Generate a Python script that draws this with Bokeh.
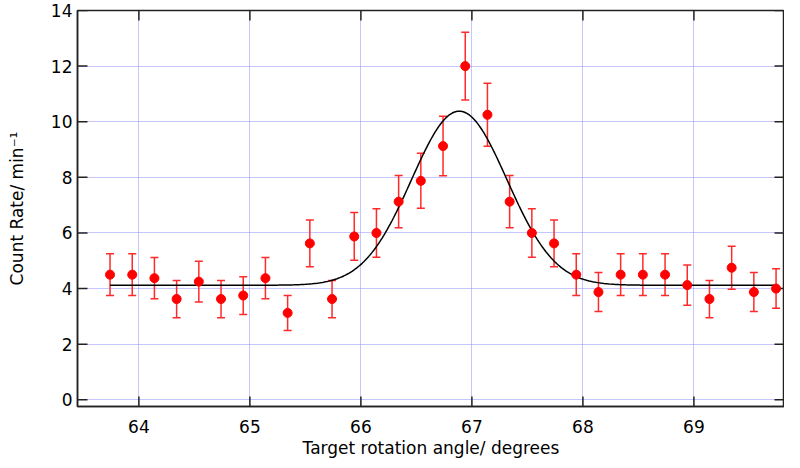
import numpy as np
from bokeh.plotting import figure
from bokeh.models import ColumnDataSource, Whisker, TeeHead, FixedTicker, Range1d
from bokeh.embed import file_html
from bokeh.resources import INLINE

# ---- data ----
angle = [63.74, 63.94, 64.14, 64.34, 64.54, 64.74, 64.94, 65.14, 65.34, 65.54,
         65.74, 65.94, 66.14, 66.34, 66.54, 66.74, 66.94, 67.14, 67.34, 67.54,
         67.74, 67.94, 68.14, 68.34, 68.54, 68.74, 68.94, 69.14, 69.34, 69.54,
         69.74]
rate = [4.5, 4.5, 4.375, 3.625, 4.25, 3.625, 3.75, 4.375, 3.125, 5.625,
        3.625, 5.875, 6.0, 7.125, 7.875, 9.125, 12.0, 10.25, 7.125, 6.0,
        5.625, 4.5, 3.875, 4.5, 4.5, 4.5, 4.125, 3.625, 4.75, 3.875,
        4.0]
rate_err = [0.75, 0.75, 0.74, 0.67, 0.73, 0.67, 0.68, 0.74, 0.63, 0.84,
            0.67, 0.86, 0.87, 0.94, 0.99, 1.07, 1.22, 1.13, 0.94, 0.87,
            0.84, 0.75, 0.70, 0.75, 0.75, 0.75, 0.72, 0.67, 0.77, 0.70,
            0.71]

# Gaussian fit parameters
fit_baseline = 4.12
fit_amplitude = 6.26
fit_center = 66.886
fit_sigma = 0.43

x_ticks = [64, 65, 66, 67, 68, 69]
y_ticks = [0, 2, 4, 6, 8, 10, 12, 14]

x_title = "Target rotation angle/ degrees"
y_title = "Count Rate/ min\u207b\u00b9"

FONT = "DejaVu Sans"
FRAME = "#222222"

W, H = 784, 460
BL, BR, BT, BB = 77, 0, 10, 53
X0, X1 = 63.447, 69.816
Y0, Y1 = -0.24, 14.0

src = ColumnDataSource(dict(
    x=angle, y=rate,
    upper=[r + e for r, e in zip(rate, rate_err)],
    lower=[r - e for r, e in zip(rate, rate_err)],
))

fx = np.linspace(angle[0], angle[-1], 400)
fy = fit_baseline + fit_amplitude * np.exp(-(fx - fit_center) ** 2 / (2 * fit_sigma ** 2))

p = figure(width=W, height=H, output_backend="svg", toolbar_location=None,
           x_range=Range1d(X0, X1), y_range=Range1d(Y0, Y1),
           min_border_left=BL, min_border_right=BR, min_border_top=BT,
           min_border_bottom=BB)
p.background_fill_color = "white"
p.border_fill_color = "white"
p.outline_line_color = FRAME
p.outline_line_width = 1.5

xa = p.xaxis[0]
ya = p.yaxis[0]
xa.ticker = FixedTicker(ticks=x_ticks)
ya.ticker = FixedTicker(ticks=y_ticks)
for ax in (xa, ya):
    ax.major_tick_in = 0
    ax.major_tick_out = 0
    ax.minor_tick_in = 0
    ax.minor_tick_out = 0
    ax.major_tick_line_color = None
    ax.minor_tick_line_color = None
    ax.axis_line_color = FRAME
    ax.axis_line_width = 1.5
    ax.major_label_text_font = FONT
    ax.major_label_text_font_size = "17px"
    ax.major_label_text_color = "black"
    ax.axis_label_text_font = FONT
    ax.axis_label_text_font_size = "17px"
    ax.axis_label_text_font_style = "normal"
    ax.axis_label_text_color = "black"

xa.axis_label = x_title
xa.major_label_standoff = 13
xa.axis_label_standoff = 2
ya.axis_label = y_title
ya.major_label_standoff = 5
ya.axis_label_standoff = 21

for g in (p.xgrid[0], p.ygrid[0]):
    g.grid_line_color = "#8c8cff"
    g.grid_line_dash = "1 1"
    g.grid_line_width = 1

# inward tick marks on all four sides of the frame (10 px long)
tick_px = 10
tx = tick_px * (X1 - X0) / (W - BL - BR)
ty = tick_px * (Y1 - Y0) / (H - BT - BB)
nx, ny = len(x_ticks), len(y_ticks)
p.segment(x0=x_ticks, y0=[Y0] * nx, x1=x_ticks, y1=[Y0 + ty] * nx,
          line_color=FRAME, line_width=1.5)
p.segment(x0=x_ticks, y0=[Y1] * nx, x1=x_ticks, y1=[Y1 - ty] * nx,
          line_color=FRAME, line_width=1.5)
p.segment(x0=[X0] * ny, y0=y_ticks, x1=[X0 + tx] * ny, y1=y_ticks,
          line_color=FRAME, line_width=1.5)
p.segment(x0=[X1] * ny, y0=y_ticks, x1=[X1 - tx] * ny, y1=y_ticks,
          line_color=FRAME, line_width=1.5)

# fit curve
p.line(fx, fy, line_color="black", line_width=1.5)

# error bars
w = Whisker(base="x", upper="upper", lower="lower", source=src,
            line_color="#ff2a2a", line_width=1.5,
            upper_head=TeeHead(size=8, line_color="#ff2a2a", line_width=1.5),
            lower_head=TeeHead(size=8, line_color="#ff2a2a", line_width=1.5))
p.add_layout(w)

# data points
p.scatter("x", "y", source=src, size=9, fill_color="#ff0000", line_color="#ff0000")

open("out.html", "w").write(file_html(p, INLINE))
